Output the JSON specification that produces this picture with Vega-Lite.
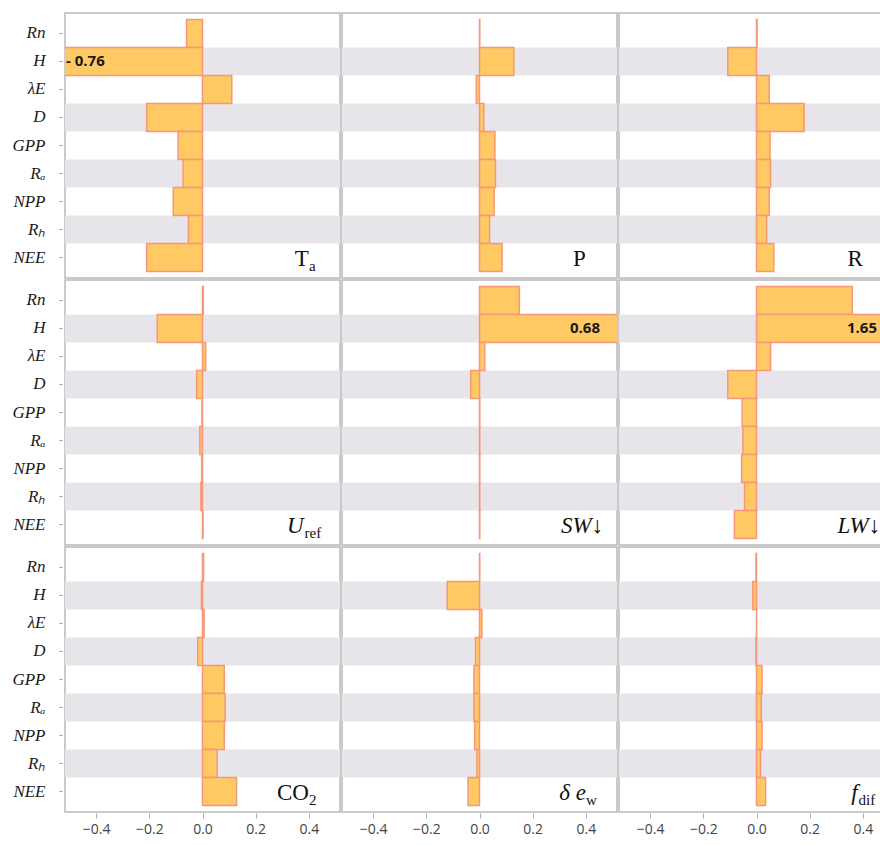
{
  "$schema": "https://vega.github.io/schema/vega-lite/v6.json",
  "padding": {"left": 11, "top": 12, "right": 0, "bottom": 0},
  "background": "white",
  "datasets": {
    "panels": [
      {"panel": "Ta", "prow": 1, "pcol": 1, "main": "T", "sub": "a"},
      {"panel": "P", "prow": 1, "pcol": 2, "main": "P", "sub": ""},
      {"panel": "R", "prow": 1, "pcol": 3, "main": "R", "sub": ""},
      {"panel": "Uref", "prow": 2, "pcol": 1, "main": "U", "sub": "ref"},
      {"panel": "SW", "prow": 2, "pcol": 2, "main": "SW↓", "sub": ""},
      {"panel": "LW", "prow": 2, "pcol": 3, "main": "LW↓", "sub": ""},
      {"panel": "CO2", "prow": 3, "pcol": 1, "main": "CO", "sub": "2"},
      {"panel": "dew", "prow": 3, "pcol": 2, "main": "δ e", "sub": "w"},
      {"panel": "fdif", "prow": 3, "pcol": 3, "main": "f", "sub": "dif"}
    ]
  },
  "data": {"values": [
    {"panel": "Ta", "var": "Rn", "v": -0.06}, {"panel": "Ta", "var": "H", "v": -0.76}, {"panel": "Ta", "var": "λE", "v": 0.11}, {"panel": "Ta", "var": "D", "v": -0.21}, {"panel": "Ta", "var": "GPP", "v": -0.092}, {"panel": "Ta", "var": "Rₐ", "v": -0.073}, {"panel": "Ta", "var": "NPP", "v": -0.11}, {"panel": "Ta", "var": "Rₕ", "v": -0.053}, {"panel": "Ta", "var": "NEE", "v": -0.21},
    {"panel": "P", "var": "Rn", "v": 0.001}, {"panel": "P", "var": "H", "v": 0.129}, {"panel": "P", "var": "λE", "v": -0.012}, {"panel": "P", "var": "D", "v": 0.016}, {"panel": "P", "var": "GPP", "v": 0.058}, {"panel": "P", "var": "Rₐ", "v": 0.06}, {"panel": "P", "var": "NPP", "v": 0.055}, {"panel": "P", "var": "Rₕ", "v": 0.038}, {"panel": "P", "var": "NEE", "v": 0.085},
    {"panel": "R", "var": "Rn", "v": 0.002}, {"panel": "R", "var": "H", "v": -0.108}, {"panel": "R", "var": "λE", "v": 0.048}, {"panel": "R", "var": "D", "v": 0.179}, {"panel": "R", "var": "GPP", "v": 0.051}, {"panel": "R", "var": "Rₐ", "v": 0.053}, {"panel": "R", "var": "NPP", "v": 0.048}, {"panel": "R", "var": "Rₕ", "v": 0.038}, {"panel": "R", "var": "NEE", "v": 0.065},
    {"panel": "Uref", "var": "Rn", "v": 0.003}, {"panel": "Uref", "var": "H", "v": -0.17}, {"panel": "Uref", "var": "λE", "v": 0.012}, {"panel": "Uref", "var": "D", "v": -0.022}, {"panel": "Uref", "var": "GPP", "v": -0.002}, {"panel": "Uref", "var": "Rₐ", "v": -0.01}, {"panel": "Uref", "var": "NPP", "v": -0.003}, {"panel": "Uref", "var": "Rₕ", "v": -0.006}, {"panel": "Uref", "var": "NEE", "v": 0.002},
    {"panel": "SW", "var": "Rn", "v": 0.15}, {"panel": "SW", "var": "H", "v": 0.68}, {"panel": "SW", "var": "λE", "v": 0.02}, {"panel": "SW", "var": "D", "v": -0.033}, {"panel": "SW", "var": "GPP", "v": 0.001}, {"panel": "SW", "var": "Rₐ", "v": 0.001}, {"panel": "SW", "var": "NPP", "v": 0.001}, {"panel": "SW", "var": "Rₕ", "v": 0.001}, {"panel": "SW", "var": "NEE", "v": 0.001},
    {"panel": "LW", "var": "Rn", "v": 0.36}, {"panel": "LW", "var": "H", "v": 1.65}, {"panel": "LW", "var": "λE", "v": 0.053}, {"panel": "LW", "var": "D", "v": -0.108}, {"panel": "LW", "var": "GPP", "v": -0.054}, {"panel": "LW", "var": "Rₐ", "v": -0.051}, {"panel": "LW", "var": "NPP", "v": -0.056}, {"panel": "LW", "var": "Rₕ", "v": -0.045}, {"panel": "LW", "var": "NEE", "v": -0.083},
    {"panel": "CO2", "var": "Rn", "v": 0.004}, {"panel": "CO2", "var": "H", "v": -0.004}, {"panel": "CO2", "var": "λE", "v": 0.006}, {"panel": "CO2", "var": "D", "v": -0.018}, {"panel": "CO2", "var": "GPP", "v": 0.082}, {"panel": "CO2", "var": "Rₐ", "v": 0.085}, {"panel": "CO2", "var": "NPP", "v": 0.082}, {"panel": "CO2", "var": "Rₕ", "v": 0.055}, {"panel": "CO2", "var": "NEE", "v": 0.128},
    {"panel": "dew", "var": "Rn", "v": 0.001}, {"panel": "dew", "var": "H", "v": -0.121}, {"panel": "dew", "var": "λE", "v": 0.009}, {"panel": "dew", "var": "D", "v": -0.015}, {"panel": "dew", "var": "GPP", "v": -0.021}, {"panel": "dew", "var": "Rₐ", "v": -0.021}, {"panel": "dew", "var": "NPP", "v": -0.018}, {"panel": "dew", "var": "Rₕ", "v": -0.01}, {"panel": "dew", "var": "NEE", "v": -0.043},
    {"panel": "fdif", "var": "Rn", "v": -0.002}, {"panel": "fdif", "var": "H", "v": -0.014}, {"panel": "fdif", "var": "λE", "v": 0.0005}, {"panel": "fdif", "var": "D", "v": -0.002}, {"panel": "fdif", "var": "GPP", "v": 0.021}, {"panel": "fdif", "var": "Rₐ", "v": 0.018}, {"panel": "fdif", "var": "NPP", "v": 0.021}, {"panel": "fdif", "var": "Rₕ", "v": 0.015}, {"panel": "fdif", "var": "NEE", "v": 0.034}
  ]},
  "transform": [
    {"lookup": "panel", "from": {"data": {"name": "panels"}, "key": "panel", "fields": ["prow", "pcol", "main", "sub"]}},
    {"calculate": "datum.v < 0 ? '- ' + format(-datum.v, '.2f') : format(datum.v, '.2f')", "as": "lab"}
  ],
  "facet": {
    "row": {"field": "prow", "type": "ordinal", "header": null, "title": null},
    "column": {"field": "pcol", "type": "ordinal", "header": null, "title": null}
  },
  "spacing": {"row": 0, "column": 0},
  "spec": {
    "width": 275,
    "height": 265,
    "encoding": {
      "y": {
        "field": "var",
        "type": "nominal",
        "sort": ["Rn", "H", "λE", "D", "GPP", "Rₐ", "NPP", "Rₕ", "NEE"],
        "scale": {"domain": ["Rn", "H", "λE", "D", "GPP", "Rₐ", "NPP", "Rₕ", "NEE"], "paddingInner": 0, "paddingOuter": 0.23},
        "axis": {"title": null, "domain": false, "ticks": true, "tickSize": 3, "tickColor": "#999999", "offset": 2, "labelPadding": 14, "labelFont": "Liberation Serif", "labelFontStyle": "italic", "labelFontSize": 17, "labelColor": "#1a1a1a"}
      }
    },
    "layer": [
      {
        "transform": [{"filter": "indexof(['H','D','Rₐ','Rₕ'], datum.var) >= 0"}],
        "mark": {"type": "rect", "color": "#E7E5EA"},
        "encoding": {
          "x": {"datum": -0.517, "type": "quantitative", "scale": {"domain": [-0.517, 0.517], "nice": false, "zero": false},
                "axis": {"values": [-0.4, -0.2, 0, 0.2, 0.4], "format": ".1f", "title": null, "grid": false, "domain": false, "tickColor": "#AAAAAA", "tickSize": 5, "labelFont": "Open Sans", "labelFontSize": 14, "labelColor": "#444444", "labelPadding": 4}},
          "x2": {"datum": 0.517}
        }
      },
      {
        "transform": [{"filter": "datum.var == 'Rn'"}],
        "mark": {"type": "rule", "color": "#B5B5B5", "strokeWidth": 1},
        "encoding": {"x": {"datum": 0, "type": "quantitative"}}
      },
      {
        "mark": {"type": "bar", "fill": "#FFC964", "stroke": "#F7977A", "strokeWidth": 1.5, "clip": true},
        "encoding": {"x": {"field": "v", "type": "quantitative"}}
      },
      {
        "transform": [{"filter": "datum.v > 0.517"}],
        "mark": {"type": "text", "align": "right", "baseline": "middle", "dx": -17, "font": "Open Sans", "fontWeight": "bold", "fontSize": 15, "color": "#1a1a1a"},
        "encoding": {"x": {"datum": 0.517, "type": "quantitative"}, "text": {"field": "lab"}}
      },
      {
        "transform": [{"filter": "datum.v < -0.517"}],
        "mark": {"type": "text", "align": "left", "baseline": "middle", "dx": 1, "font": "Open Sans", "fontWeight": "bold", "fontSize": 15, "color": "#1a1a1a"},
        "encoding": {"x": {"datum": -0.517, "type": "quantitative"}, "text": {"field": "lab"}}
      },
      {
        "transform": [{"filter": "datum.var == 'NEE' && indexof(['T','P','R','CO'], datum.main) >= 0"}],
        "mark": {"type": "text", "align": "right", "baseline": "middle", "dy": 1, "font": "Liberation Serif", "fontSize": 23, "color": "#111111"},
        "encoding": {"x": {"datum": 0.4, "type": "quantitative"}, "text": {"field": "main"}}
      },
      {
        "transform": [{"filter": "datum.var == 'NEE' && datum.main == 'δ e'"}],
        "mark": {"type": "text", "align": "right", "baseline": "middle", "dy": 1, "font": "Liberation Serif", "fontStyle": "italic", "fontSize": 23, "color": "#111111"},
        "encoding": {"x": {"datum": 0.4, "type": "quantitative"}, "text": {"field": "main"}}
      },
      {
        "transform": [{"filter": "datum.var == 'NEE' && indexof(['U','f'], datum.main) >= 0"}],
        "mark": {"type": "text", "align": "right", "baseline": "middle", "dy": 1, "font": "Liberation Serif", "fontStyle": "italic", "fontSize": 23, "color": "#111111"},
        "encoding": {"x": {"datum": 0.38, "type": "quantitative"}, "text": {"field": "main"}}
      },
      {
        "transform": [{"filter": "datum.var == 'NEE' && indexof(['SW↓','LW↓'], datum.main) >= 0"}],
        "mark": {"type": "text", "align": "right", "baseline": "middle", "dy": 1, "font": "Liberation Serif", "fontStyle": "italic", "fontSize": 23, "color": "#111111"},
        "encoding": {"x": {"datum": 0.465, "type": "quantitative"}, "text": {"field": "main"}}
      },
      {
        "transform": [{"filter": "datum.var == 'NEE' && datum.sub != '' && indexof(['U','f'], datum.main) < 0"}],
        "mark": {"type": "text", "align": "left", "baseline": "middle", "dx": 0, "dy": 8, "font": "Liberation Serif", "fontSize": 15, "color": "#111111"},
        "encoding": {"x": {"datum": 0.4, "type": "quantitative"}, "text": {"field": "sub"}}
      },
      {
        "transform": [{"filter": "datum.var == 'NEE' && datum.sub != '' && indexof(['U','f'], datum.main) >= 0"}],
        "mark": {"type": "text", "align": "left", "baseline": "middle", "dx": 1, "dy": 8, "font": "Liberation Serif", "fontSize": 15, "color": "#111111"},
        "encoding": {"x": {"datum": 0.38, "type": "quantitative"}, "text": {"field": "sub"}}
      }
    ]
  },
  "config": {
    "view": {"stroke": "#B9B9B9", "strokeWidth": 1.5},
    "axisY": {"labelFont": "Liberation Serif", "labelFontStyle": "italic", "labelFontSize": 17}
  }
}
